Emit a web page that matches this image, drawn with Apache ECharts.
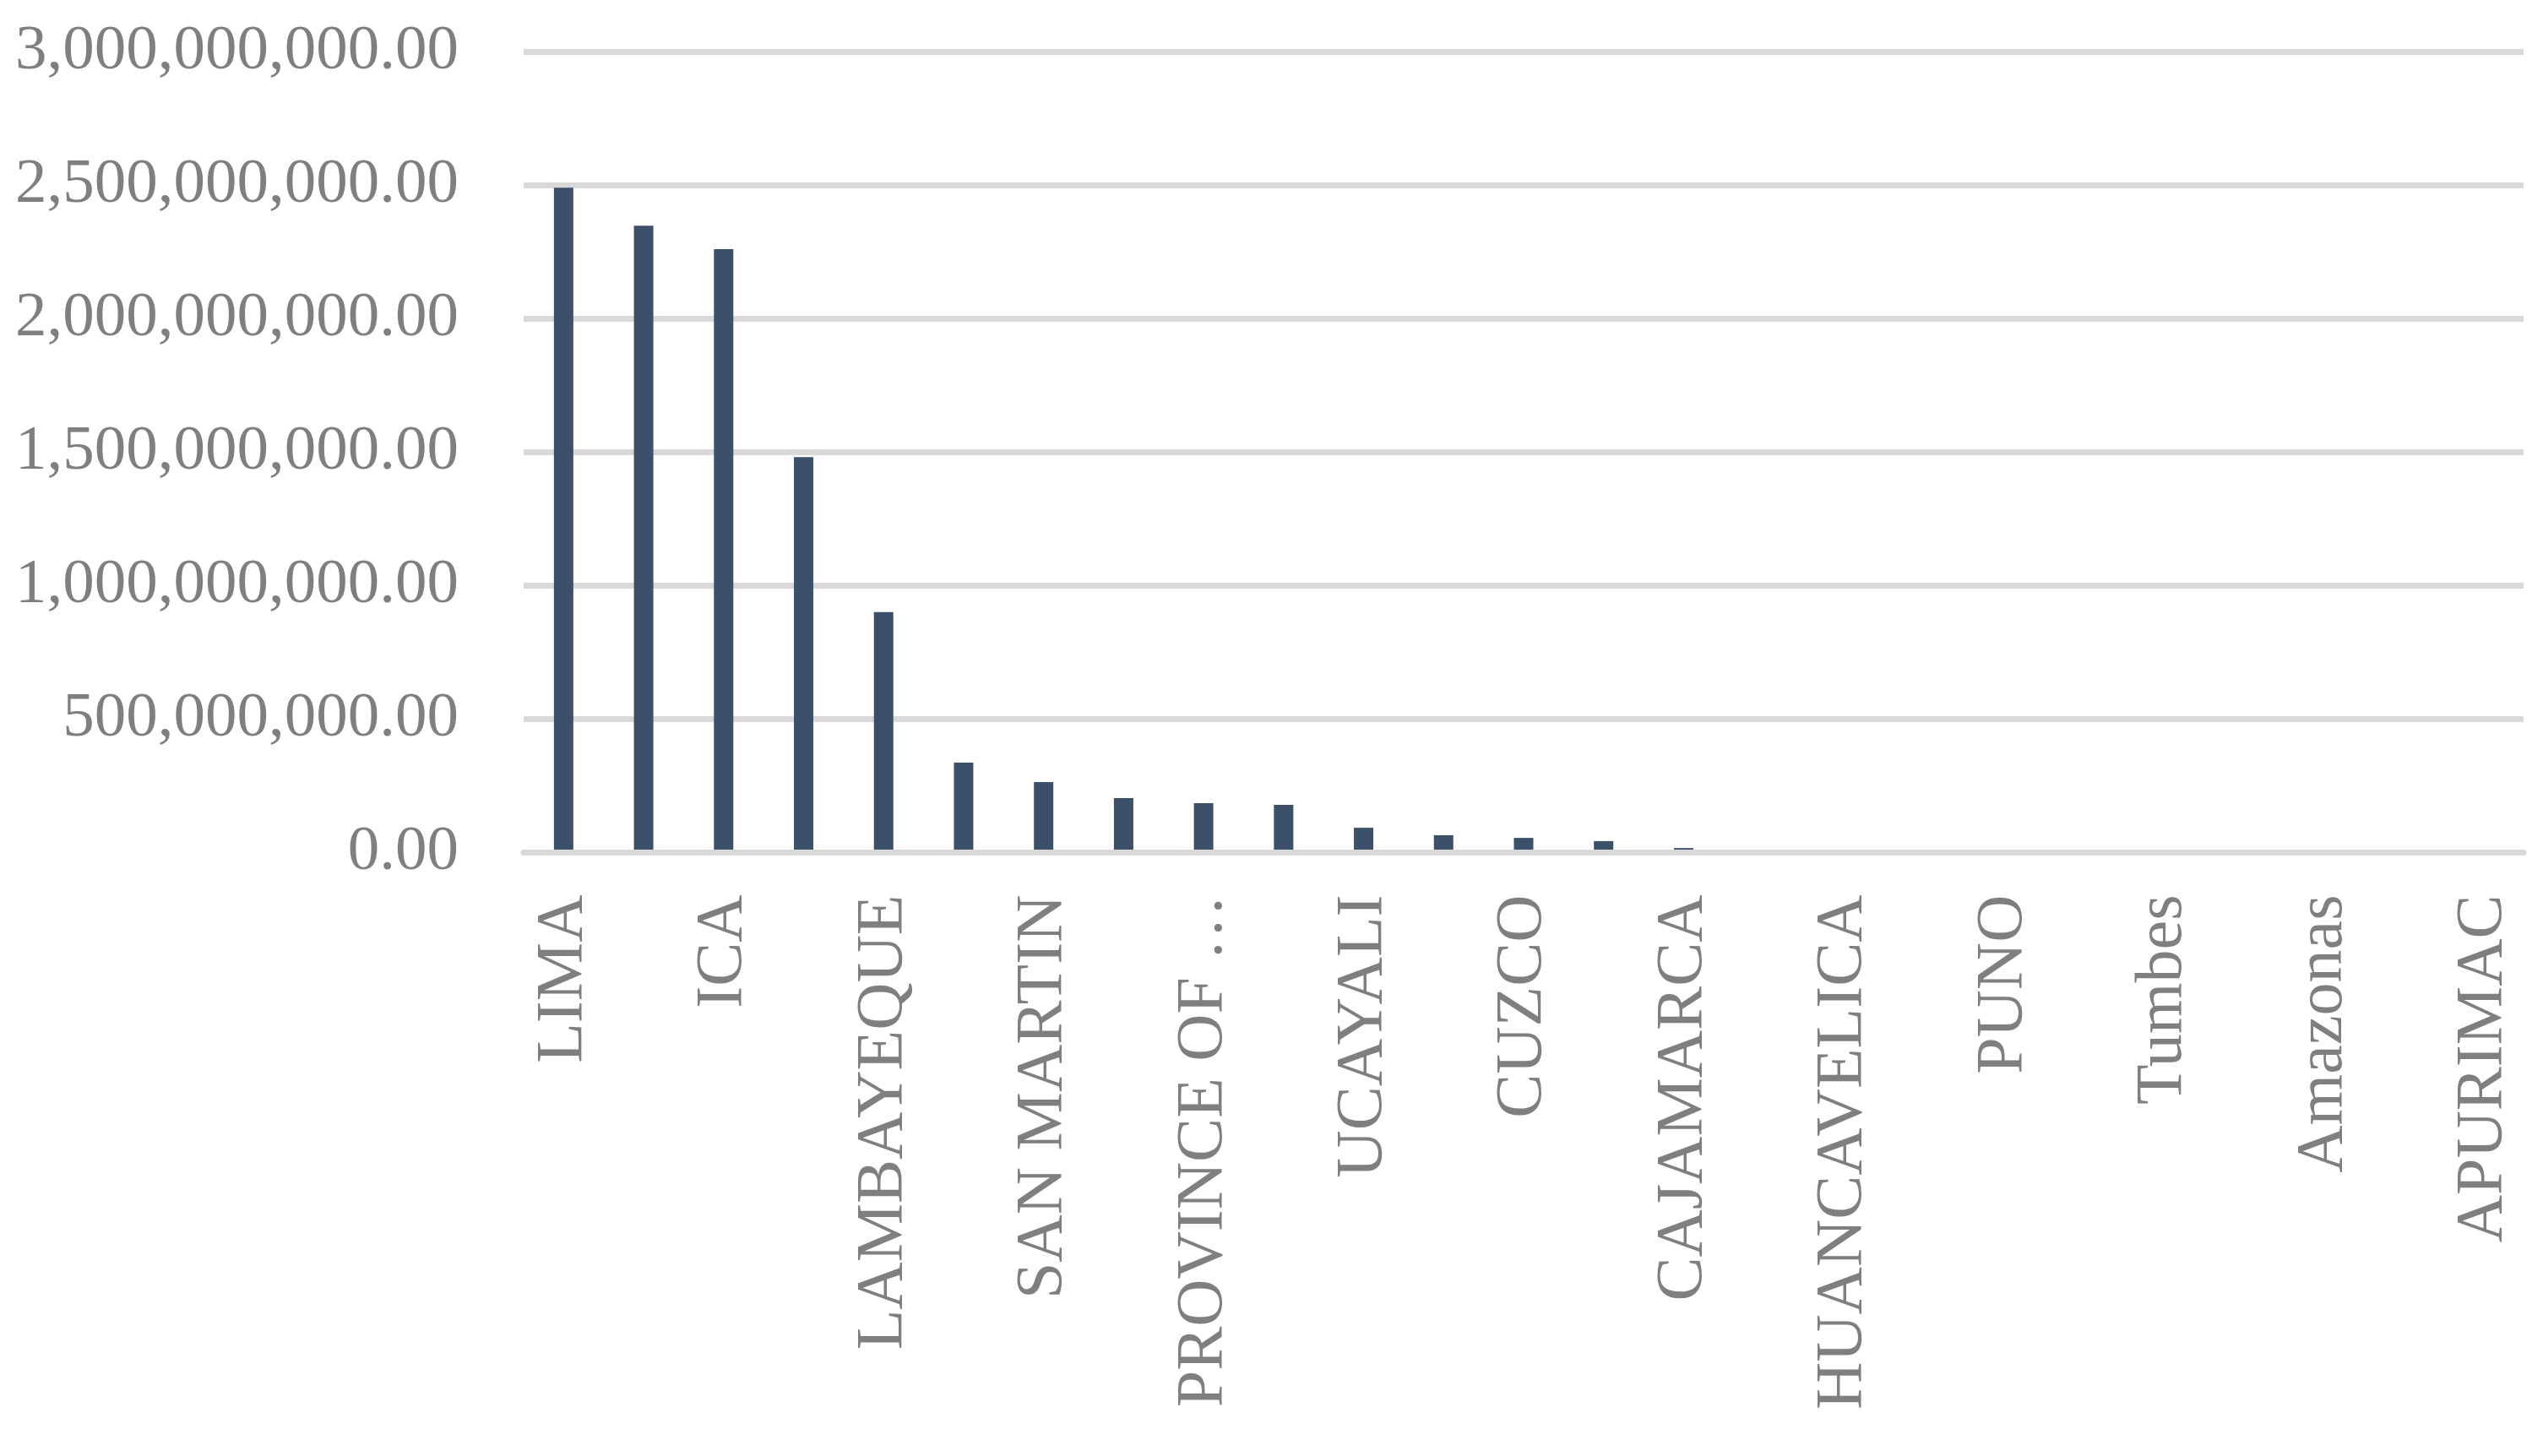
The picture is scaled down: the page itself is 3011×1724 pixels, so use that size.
<!DOCTYPE html>
<html>
<head>
<meta charset="utf-8">
<script src="https://cdn.jsdelivr.net/npm/echarts@6/dist/echarts.min.js"></script>
<style>
html,body{margin:0;padding:0;background:#fff;}
#chart{width:3011px;height:1724px;}
</style>
</head>
<body>
<div id="chart"></div>
<script>
// Categories (every other label is shown on the axis, as in the reference)
const categories = [
  "LIMA", "LA LIBERTAD", "ICA", "PIURA", "LAMBAYEQUE", "AREQUIPA", "SAN MARTIN",
  "JUNIN", "PROVINCE OF …", "ANCASH", "UCAYALI", "LORETO", "CUZCO", "MADRE DE DIOS",
  "CAJAMARCA", "HUANUCO", "HUANCAVELICA", "TACNA", "PUNO", "MOQUEGUA", "Tumbes",
  "Pasco", "Amazonas", "Ayacucho", "APURIMAC"
];
const values = [
  2490000000, 2348000000, 2260000000, 1481000000, 901000000, 337000000, 264000000,
  204000000, 185000000, 179000000, 93000000, 65000000, 55000000, 43000000,
  17000000, 1500000, 1200000, 1000000, 800000, 600000, 500000,
  400000, 300000, 200000, 100000
];
const yMin = 0, yMax = 3000000000, yStep = 500000000;

function fmt(v) {
  return Number(v).toLocaleString('en-US', {minimumFractionDigits: 2, maximumFractionDigits: 2});
}

const chart = echarts.init(document.getElementById('chart'), null, {renderer: 'canvas'});
chart.setOption({
  animation: false,
  backgroundColor: '#ffffff',
  grid: {left: 620, right: 23, top: 61, bottom: 714.5, containLabel: false},
  xAxis: {
    type: 'category',
    data: categories,
    z: 5,
    axisLine: {show: true, lineStyle: {color: '#d9d9d9', width: 7}},
    axisTick: {show: false},
    axisLabel: {
      interval: 1,
      rotate: 90,
      margin: 50,
      color: '#7f7f7f',
      fontFamily: '"Liberation Serif", serif',
      fontSize: 78
    }
  },
  yAxis: {
    type: 'value',
    min: yMin, max: yMax, interval: yStep,
    axisLine: {show: false},
    axisTick: {show: false},
    splitLine: {show: true, lineStyle: {color: '#d9d9d9', width: 7}},
    axisLabel: {
      formatter: fmt,
      margin: 77,
      color: '#7f7f7f',
      fontFamily: '"Liberation Serif", serif',
      fontSize: 75
    }
  },
  series: [{
    type: 'bar',
    data: values,
    barWidth: 23,
    itemStyle: {color: '#3c5169'}
  }]
});
</script>
</body>
</html>
